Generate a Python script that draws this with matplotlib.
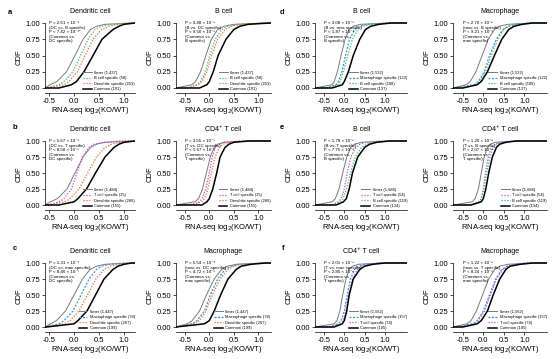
import numpy as np
import matplotlib.pyplot as plt

plt.rcParams['font.family'] = ['Liberation Sans', 'DejaVu Sans']

W, H = 554, 359

# CDF levels and the x (log2 KO/WT) at those levels
levels = [0, 0.05, 0.1, 0.25, 0.5, 0.75, 0.9, 0.95, 0.98, 1.0]

# ---- panel a ----
a1_q = [[-0.58, -0.48, -0.34, -0.15, 0.02, 0.18, 0.33, 0.45, 0.62, 1.22],
        [-0.55, -0.3, -0.2, -0.02, 0.13, 0.28, 0.42, 0.55, 0.75, 1.1],
        [-0.55, -0.2, -0.1, 0.07, 0.22, 0.38, 0.55, 0.7, 0.9, 1.15],
        [-0.3, -0.05, 0.05, 0.2, 0.38, 0.56, 0.78, 0.9, 1.0, 1.22]]
a2_q = [[-0.68, -0.36, -0.28, -0.18, -0.07, 0.04, 0.17, 0.3, 0.5, 1.24],
        [-0.45, -0.25, -0.18, -0.08, 0.01, 0.12, 0.25, 0.38, 0.6, 1.1],
        [-0.45, -0.22, -0.15, -0.05, 0.05, 0.17, 0.32, 0.45, 0.65, 1.1],
        [-0.2, -0.05, 0.0, 0.08, 0.18, 0.34, 0.5, 0.62, 0.8, 1.24]]
a_names = ['6mer (1,437)', 'B cell specific (58)', 'Dendritic specific (253)', 'Common (191)']
a_keys = ['6mer', 'B', 'DC', 'Common']

# ---- panel b ----
b1_q = [[-0.58, -0.47, -0.33, -0.14, 0.02, 0.18, 0.33, 0.45, 0.62, 1.22],
        [-0.5, -0.3, -0.2, -0.05, 0.06, 0.17, 0.3, 0.4, 0.6, 0.9],
        [-0.55, -0.18, -0.08, 0.1, 0.27, 0.45, 0.62, 0.75, 0.92, 1.15],
        [-0.3, 0.0, 0.08, 0.25, 0.43, 0.62, 0.8, 0.9, 1.0, 1.22]]
b2_q = [[-0.68, -0.3, -0.22, -0.14, -0.06, 0.02, 0.1, 0.17, 0.3, 0.85],
        [-0.3, -0.2, -0.15, -0.07, 0.0, 0.06, 0.12, 0.2, 0.3, 0.6],
        [-0.45, -0.15, -0.1, -0.03, 0.04, 0.12, 0.2, 0.28, 0.4, 0.85],
        [-0.15, -0.05, 0.0, 0.07, 0.15, 0.22, 0.32, 0.4, 0.5, 0.8]]
b_names = ['6mer (1,484)', 'T cell specific (25)', 'Dendritic specific (286)', 'Common (155)']
b_keys = ['6mer', 'T', 'DC', 'Common']

# ---- panel c ----
c1_q = [[-0.58, -0.47, -0.35, -0.17, 0.0, 0.17, 0.32, 0.45, 0.62, 1.2],
        [-0.58, -0.3, -0.2, -0.02, 0.14, 0.3, 0.45, 0.55, 0.7, 1.0],
        [-0.55, -0.2, -0.08, 0.1, 0.27, 0.44, 0.6, 0.72, 0.9, 1.15],
        [-0.55, 0.0, 0.08, 0.26, 0.43, 0.6, 0.78, 0.88, 1.0, 1.15]]
c2_q = [[-0.68, -0.45, -0.35, -0.2, -0.06, 0.1, 0.25, 0.37, 0.55, 1.15],
        [-0.68, -0.35, -0.25, -0.1, 0.02, 0.17, 0.32, 0.45, 0.6, 1.1],
        [-0.68, -0.3, -0.2, -0.07, 0.06, 0.22, 0.38, 0.5, 0.7, 1.1],
        [-0.68, -0.1, 0.0, 0.1, 0.23, 0.38, 0.55, 0.65, 0.85, 1.15]]
c_names = ['6mer (1,447)', 'Macrophage specific (78)', 'Dendritic specific (267)', 'Common (199)']
c_keys = ['6mer', 'Mac', 'DC', 'Common']

# ---- panel d ----
d1_q = [[-0.72, -0.3, -0.25, -0.17, -0.08, 0.02, 0.12, 0.22, 0.4, 1.2],
        [-0.45, -0.2, -0.14, -0.06, 0.03, 0.13, 0.26, 0.37, 0.55, 1.1],
        [-0.4, -0.15, -0.1, -0.02, 0.08, 0.2, 0.33, 0.45, 0.65, 1.1],
        [-0.3, -0.05, 0.0, 0.1, 0.22, 0.38, 0.52, 0.65, 0.85, 1.15]]
d2_q = [[-0.74, -0.42, -0.32, -0.18, -0.03, 0.12, 0.27, 0.38, 0.6, 1.2],
        [-0.74, -0.22, -0.12, 0.02, 0.15, 0.32, 0.48, 0.6, 0.8, 1.15],
        [-0.5, -0.2, -0.1, 0.05, 0.19, 0.35, 0.5, 0.62, 0.85, 1.15],
        [-0.5, -0.15, -0.05, 0.1, 0.27, 0.45, 0.62, 0.75, 0.95, 1.2]]
d_names = ['6mer (1,532)', 'Macrophage specific (122)', 'B cell specific (108)', 'Common (137)']
d_keys = ['6mer', 'Mac', 'B', 'Common']

# ---- panel e ----
e1_q = [[-0.72, -0.3, -0.22, -0.13, -0.04, 0.06, 0.16, 0.25, 0.42, 1.15],
        [-0.3, -0.15, -0.08, 0.0, 0.07, 0.16, 0.28, 0.38, 0.55, 0.9],
        [-0.3, -0.1, -0.03, 0.05, 0.15, 0.27, 0.42, 0.55, 0.75, 1.1],
        [-0.2, -0.02, 0.05, 0.12, 0.2, 0.33, 0.5, 0.62, 0.8, 1.1]]
e2_q = [[-0.74, -0.27, -0.2, -0.12, -0.05, 0.02, 0.1, 0.17, 0.3, 0.85],
        [-0.3, -0.1, -0.05, 0.0, 0.05, 0.12, 0.2, 0.28, 0.4, 0.7],
        [-0.35, -0.1, -0.05, 0.01, 0.08, 0.16, 0.25, 0.33, 0.5, 0.85],
        [-0.3, -0.05, 0.0, 0.06, 0.13, 0.22, 0.32, 0.4, 0.55, 0.8]]
e_names = ['6mer (1,686)', 'T cell specific (54)', 'B cell specific (119)', 'Common (134)']
e_keys = ['6mer', 'T', 'B', 'Common']

# ---- panel f ----
f1_q = [[-0.72, -0.25, -0.18, -0.11, -0.04, 0.04, 0.12, 0.2, 0.35, 0.9],
        [-0.4, -0.15, -0.08, 0.0, 0.07, 0.15, 0.25, 0.35, 0.5, 1.0],
        [-0.3, -0.08, -0.03, 0.04, 0.1, 0.2, 0.32, 0.42, 0.6, 0.9],
        [-0.25, -0.05, 0.0, 0.06, 0.12, 0.22, 0.38, 0.5, 0.7, 1.0]]
f2_q = [[-0.74, -0.4, -0.3, -0.17, -0.02, 0.13, 0.28, 0.4, 0.6, 1.2],
        [-0.74, -0.25, -0.15, 0.0, 0.15, 0.3, 0.45, 0.58, 0.8, 1.15],
        [-0.5, -0.2, -0.12, 0.03, 0.17, 0.32, 0.48, 0.6, 0.8, 1.0],
        [-0.5, -0.15, -0.05, 0.1, 0.24, 0.4, 0.55, 0.65, 0.9, 1.2]]
f_names = ['6mer (1,562)', 'Macrophage specific (157)', 'T cell specific (74)', 'Common (105)']
f_keys = ['6mer', 'Mac', 'T', 'Common']

SUP = str.maketrans('-0123456789', '⁻⁰¹²³⁴⁵⁶⁷⁸⁹')


def ptxt(p1, e1, cmp1, p2, e2, cmp2):
    return ('P < %s × 10%s\n(%s)\nP < %s × 10%s\n(Common vs.\n%s)'
            % (p1, str(e1).translate(SUP), cmp1, p2, str(e2).translate(SUP), cmp2))


# styles per gene set
style = {
    '6mer':   dict(color='#7a7a7a', lw=0.7, ls='-'),
    'B':      dict(color='#3cb878', lw=0.9, ls=(0, (1, 1.3))),
    'DC':     dict(color='#f26a35', lw=0.9, ls=(0, (1, 1.3))),
    'T':      dict(color='#b450d8', lw=0.9, ls=(0, (1, 1.3))),
    'Mac':    dict(color='#3d93dc', lw=0.9, ls=(0, (1.6, 1.2))),
    'Common': dict(color='black', lw=1.1, ls='-'),
}

# column geometry: left spine px, xlim, px per unit
cols = {1: (45, -0.58, 1.22, 50.0), 2: (176, -0.68, 1.25, 49.0),
        3: (315, -0.72, 1.55, 40.7), 4: (453, -0.74, 1.55, 41.0)}
# row geometry: px of CDF=1 and CDF=0
rows = {1: (23, 88), 2: (141, 205), 3: (263, 327)}

panels = [
    (1, 1, 'Dendritic cell', a1_q, a_names, a_keys, ptxt('2.61', -8, 'DC vs. B specific', '7.42', -10, 'DC specific')),
    (2, 1, 'B cell', a2_q, a_names, a_keys, ptxt('3.48', -2, 'B vs. DC specific', '9.50', -3, 'B specific')),
    (1, 2, 'Dendritic cell', b1_q, b_names, b_keys, ptxt('5.67', -5, 'DC vs. T specific', '8.58', -6, 'DC specific')),
    (2, 2, 'CD4⁺ T cell', b2_q, b_names, b_keys, ptxt('3.55', -5, 'T vs. DC specific', '1.67', -5, 'T specific')),
    (1, 3, 'Dendritic cell', c1_q, c_names, c_keys, ptxt('1.31', -5, 'DC vs. mac specific', '8.46', -7, 'DC specific')),
    (2, 3, 'Macrophage', c2_q, c_names, c_keys, ptxt('5.54', -4, 'mac vs. DC specific', '4.72', -5, 'mac specific')),
    (3, 1, 'B cell', d1_q, d_names, d_keys, ptxt('3.08', -3, 'B vs. mac specific', '1.87', -4, 'B specific')),
    (4, 1, 'Macrophage', d2_q, d_names, d_keys, ptxt('2.70', -2, 'mac vs. B specific', '9.21', -3, 'mac specific')),
    (3, 2, 'B cell', e1_q, e_names, e_keys, ptxt('1.78', -2, 'B vs. T specific', '7.75', -4, 'B specific')),
    (4, 2, 'CD4⁺ T cell', e2_q, e_names, e_keys, ptxt('1.20', -2, 'T vs. B specific', '2.07', -2, 'T specific')),
    (3, 3, 'CD4⁺ T cell', f1_q, f_names, f_keys, ptxt('2.01', -2, 'T vs. mac specific', '2.85', -2, 'T specific')),
    (4, 3, 'Macrophage', f2_q, f_names, f_keys, ptxt('1.22', -2, 'mac vs. T specific', '8.24', -3, 'mac specific')),
]

fig = plt.figure(figsize=(W / 100, H / 100), dpi=100)

for col, row, title, qs, names, keys, ptext in panels:
    left, x0, x1, ppu = cols[col]
    y1px, y0px = rows[row]
    unit = y0px - y1px
    width = (x1 - x0) * ppu
    top = y1px - 0.04 * unit
    bottom = y0px + 0.08 * unit
    ax = fig.add_axes([left / W, 1 - bottom / H, width / W, (bottom - top) / H])

    for q, name, key in zip(qs, names, keys):
        xs = [x0] + q + [x1]
        ys = [0] + levels + [1]
        ax.plot(xs, ys, label=name, **style[key])

    ax.set_xlim(x0, x1)
    ax.set_ylim(-0.08, 1.04)
    ax.set_xticks([-0.5, 0.0, 0.5, 1.0])
    ax.set_xticklabels(['-0.5', '0.0', '0.5', '1.0'])
    ax.set_yticks([0, 0.25, 0.5, 0.75, 1.0])
    ax.set_yticklabels(['0.00', '0.25', '0.50', '0.75', '1.00'])
    ax.tick_params(labelsize=5.5, length=2, width=0.5, pad=1.5)
    for s in ['top', 'right']:
        ax.spines[s].set_visible(False)
    ax.spines['left'].set_bounds(0, 1)
    ax.spines['left'].set_linewidth(0.5)
    ax.spines['bottom'].set_linewidth(0.5)

    h = bottom - top
    ax.set_title(title, fontsize=5, pad=5)
    ax.set_ylabel('CDF', fontsize=5.5)
    ax.yaxis.set_label_coords(-22 / width, 0.5)
    ax.set_xlabel('RNA-seq log$_2$(KO/WT)', fontsize=5.5)
    ax.xaxis.set_label_coords(0.5, -(y0px + 17 - bottom) / h)

    ax.text(-0.5, 1.03, ptext, fontsize=3.2, va='top', ha='left', linespacing=1.2)
    ax.legend(loc='lower right', bbox_to_anchor=(1.0, 0.03), frameon=False,
              fontsize=2.9, handlelength=2.2, handletextpad=0.6,
              labelspacing=0.35, borderpad=0, borderaxespad=0)

# panel letters
for letter, xp, yp in [('a', 10, 13), ('b', 15, 128), ('c', 15, 248),
                       ('d', 282, 13), ('e', 282, 128), ('f', 283, 248)]:
    fig.text(xp / W, 1 - yp / H, letter, fontsize=5.5, fontweight='bold',
             ha='center', va='center')

fig.savefig('out.png', dpi=100)
